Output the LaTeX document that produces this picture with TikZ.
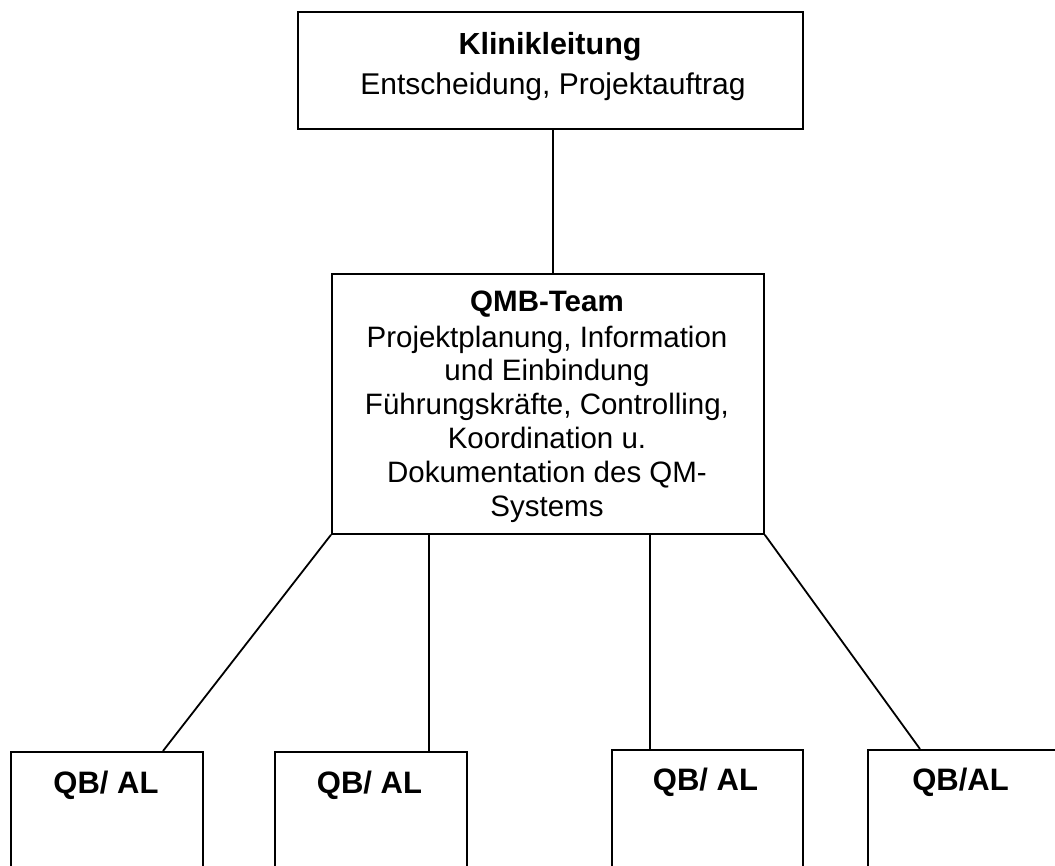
\documentclass[tikz,border=0pt]{standalone}
\usepackage{fontspec}
\setmainfont{Liberation Sans}
\begin{document}
\begin{tikzpicture}[x=1pt,y=-1pt,
  box/.style={draw,line width=1.8pt,inner sep=0pt,anchor=north west},
  link/.style={line width=1.8pt},
  txt/.style={font=\fontsize{29.5}{33.8}\selectfont,align=center,inner sep=0pt,anchor=base},
  bold/.style={font=\fontsize{31}{36}\selectfont\bfseries,inner sep=0pt,anchor=base}]
\useasboundingbox (0,0) rectangle (1055,866);
% boxes
\node[box,minimum width=505pt,minimum height=117pt] (top) at (297,11) {};
\node[box,minimum width=432pt,minimum height=260pt] (mid) at (331,273) {};
\node[box,minimum width=192pt,minimum height=140pt] (b1) at (10,751) {};
\node[box,minimum width=192pt,minimum height=140pt] (b2) at (274,751) {};
\node[box,minimum width=191pt,minimum height=140pt] (b3) at (611,749) {};
\node[box,minimum width=200pt,minimum height=140pt] (b4) at (867,749) {};
% texts
\node[bold,font=\fontsize{30.5}{35}\selectfont\bfseries] (t1) at (550,55) {Klinikleitung};
\node[txt,font=\fontsize{30}{34}\selectfont] (t2) at (553,95) {Entscheidung, Projektauftrag};
\node[txt] (m1) at (547,516) {\textbf{QMB-Team}\\[2pt]Projektplanung, Information\\und Einbindung\\Führungskräfte, Controlling,\\Koordination u.\\Dokumentation des QM-\\Systems};
\node[bold] (q1) at (106,793) {QB/ AL};
\node[bold] (q2) at (369.5,793) {QB/ AL};
\node[bold] (q3) at (705.5,790) {QB/ AL};
\node[bold] (q4) at (960.5,790) {QB/AL};
% connectors
\coordinate (e1) at (163,751);
\coordinate (e4) at (920,749);
\draw[link] (top.south -| 553,0) -- (mid.north -| 553,0);
\draw[link] (mid.south west) -- (e1);
\draw[link] (mid.south -| 429,0) -- (b2.north -| 429,0);
\draw[link] (mid.south -| 650,0) -- (b3.north -| 650,0);
\draw[link] (mid.south east) -- (e4);
\end{tikzpicture}
\end{document}
